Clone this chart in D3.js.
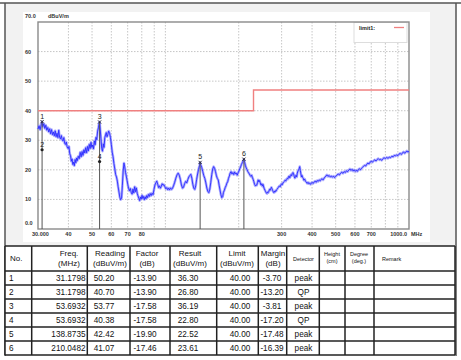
<!DOCTYPE html>
<html><head><meta charset="utf-8">
<script src="https://cdn.jsdelivr.net/npm/d3@7"></script>
<style>body{margin:0;background:#fff}svg{display:block}text{font-family:"Liberation Sans",Arial,sans-serif}</style>
</head><body>
<svg id="c" width="461" height="360"></svg>
<script>
// ---- data ----
const traceFreq = [30.0,30.3,30.6,30.9,31.18,31.4,31.7,32.0,32.3,32.6,32.9,33.2,33.5,33.8,34.1,34.4,34.7,35.0,35.3,35.6,35.9,36.2,36.5,36.8,37.1,37.4,37.7,38.0,38.3,38.6,38.9,39.2,39.5,39.9,40.2,40.5,40.8,41.1,41.4,41.7,42.0,42.3,42.6,42.9,43.2,43.5,43.9,44.3,44.7,45.1,45.5,45.9,46.3,46.7,47.1,47.5,47.9,48.3,48.7,49.1,49.5,49.9,50.3,50.7,51.1,51.5,51.9,52.3,52.7,53.1,53.4,53.69,54.0,54.4,54.8,55.2,55.6,56.0,56.4,56.8,57.2,57.6,58.0,58.5,59.0,59.5,60.0,60.5,61.0,61.5,62.0,62.5,63.0,63.5,64.0,64.5,65.0,65.5,66.1,66.6,67.1,67.6,68.1,68.6,69.1,69.6,70.1,70.6,71.2,71.8,72.4,73.0,73.6,74.2,74.8,75.4,76.0,76.6,77.2,77.8,78.4,79.0,79.6,80.2,80.8,81.4,82.0,82.6,83.2,83.8,84.5,85.2,85.9,86.6,87.4,88.2,89.0,89.8,90.6,91.4,92.2,93.0,93.8,94.6,95.4,96.2,97.0,97.8,98.6,99.5,100.4,101.3,102.2,103.1,104.0,105.0,106.0,107.0,108.0,109.2,110.4,111.6,112.8,114.0,115.2,116.4,117.6,118.8,120.0,121.2,122.4,123.6,124.8,126.0,127.2,128.4,129.6,130.8,132.0,133.2,134.4,135.6,136.8,138.0,138.87,139.8,141.0,142.4,143.8,145.2,146.6,148.0,149.4,150.8,152.2,153.6,155.0,156.4,157.8,159.2,160.6,162.0,163.4,164.8,166.2,167.6,169.0,170.4,171.8,173.2,174.6,176.0,177.4,178.8,180.2,181.6,183.0,184.4,186.0,187.6,189.2,190.8,192.4,194.0,195.6,197.2,198.8,200.4,202.0,203.6,205.2,206.8,208.4,210.05,211.6,213.2,214.8,216.4,218.0,219.6,221.2,222.8,224.4,226.0,227.6,229.2,230.8,232.4,234.0,235.6,237.2,238.8,240.4,242.0,243.6,245.2,246.8,248.4,250.0,251.6,253.2,254.8,256.4,258.0,259.6,261.2,262.8,264.4,266.0,267.6,269.2,270.8,272.4,274.0,275.6,277.2,278.8,280.4,282.0,283.6,285.2,286.8,288.4,290.0,292.0,294.0,296.0,298.0,300.0,302.0,304.0,306.0,308.0,310.0,312.0,314.0,316.0,318.0,320.0,322.0,324.0,326.0,328.0,330.0,332.0,334.0,336.0,338.0,340.0,342.0,344.0,346.0,348.0,350.0,352.0,354.0,356.0,358.0,360.0,362.0,364.0,366.0,368.0,370.0,373,376,379,382,385,388,391,394,397,400,404,408,412,416,420,424,428,432,436,440,444,448,452,456,460,465,470,475,480,485,490,495,500,506,512,518,524,530,536,542,548,554,560,566,572,578,584,590,596,602,608,614,620,626,632,638,644,650,657,664,671,678,685,692,700,708,716,724,732,740,748,756,764,772,780,790,800,810,820,830,840,850,860,870,880,890,900,910,920,930,940,950,960,970,980,990,1000];
const traceLevel = [33.8,34.9,33.6,35.2,36.3,34.6,35.6,34.0,35.1,33.4,34.3,32.8,33.9,32.2,33.6,31.9,32.8,31.5,33.2,31.2,32.4,30.9,33.4,31.0,30.5,31.6,30.2,29.8,30.9,29.0,28.6,29.4,27.8,27.2,27.9,25.4,24.8,22.9,23.7,21.8,22.6,21.4,23.5,22.4,24.0,23.1,24.6,23.8,25.9,24.4,26.2,24.9,26.8,25.7,27.5,25.8,27.9,26.4,28.6,27.2,29.3,27.6,28.4,27.1,29.8,28.5,31.0,30.2,33.1,34.2,35.6,36.2,33.8,30.5,27.2,26.3,28.8,27.6,30.9,31.8,32.6,31.2,31.9,33.1,32.4,31.0,28.6,26.0,24.4,22.1,20.3,18.4,17.6,16.2,14.2,12.5,10.8,9.9,10.5,14.8,19.6,22.3,21.0,19.2,17.9,16.5,15.0,13.8,12.9,13.7,12.4,11.8,13.5,12.2,14.3,12.6,13.9,12.1,11.2,10.4,9.6,10.8,10.1,11.4,10.3,11.0,9.9,10.9,10.2,11.3,10.6,11.7,11.0,12.0,11.3,12.1,11.6,13.4,14.9,15.6,16.2,15.1,14.0,14.6,13.8,14.4,15.3,14.8,15.0,14.3,13.6,14.0,13.3,13.8,13.2,13.9,13.4,13.8,14.6,15.8,17.2,18.3,18.9,18.2,16.8,14.9,13.8,14.2,15.4,16.1,15.6,16.7,17.6,18.1,18.5,17.2,15.1,13.8,13.4,14.6,16.8,18.6,20.1,21.4,22.5,21.6,20.8,19.4,18.0,17.1,15.6,13.8,12.7,12.3,13.5,15.8,18.4,20.3,21.1,20.5,19.4,18.0,17.1,16.6,14.8,13.2,11.6,10.6,10.9,12.4,13.1,14.0,14.6,15.5,16.0,17.1,17.9,18.9,19.4,18.6,19.1,18.4,19.3,18.6,18.9,18.2,19.0,19.6,20.4,21.0,21.8,22.4,23.0,23.6,22.5,21.4,20.6,20.1,19.4,19.0,18.6,18.1,17.8,18.2,17.4,16.8,16.0,15.1,14.6,14.9,14.8,15.7,16.6,15.9,16.4,15.6,14.9,15.3,14.5,15.1,14.2,13.6,13.1,12.6,12.2,12.0,12.5,12.3,12.8,13.4,13.1,13.7,14.1,13.6,13.0,12.6,12.3,12.8,12.5,13.0,12.9,13.4,13.6,14.0,14.2,14.6,14.3,14.9,15.3,15.0,15.6,15.9,16.1,16.5,16.2,16.8,17.1,16.9,17.6,17.9,17.3,18.1,18.4,18.0,18.8,19.1,18.6,17.8,17.2,17.9,18.2,17.6,18.9,19.6,19.9,20.4,21.1,19.8,18.6,17.6,18.1,17.4,17.2,16.5,16.9,16.1,15.9,15.4,15.8,15.3,15.6,15.1,15.4,15.8,15.4,15.9,16.2,15.8,16.4,16.1,16.6,16.3,16.8,17.0,16.6,17.2,17.5,17.9,18.3,17.8,18.1,17.6,17.9,17.5,17.9,17.4,17.8,18.2,18.6,18.3,18.9,19.2,18.8,19.4,19.1,19.7,19.4,19.9,20.3,19.8,20.2,19.6,20.0,19.5,19.9,19.5,20.1,20.4,20.0,20.5,20.8,21.2,21.5,21.3,21.9,22.3,22.0,22.6,22.9,22.6,23.1,23.4,23.0,23.5,23.8,23.4,23.6,23.2,23.7,24.1,23.8,24.2,23.9,24.3,24.1,24.6,24.4,24.9,24.7,25.1,24.8,25.3,25.6,25.2,25.7,26.1,25.6,26.0,26.4,26.0,26.3];
const limitFreq = [30, 230, 230, 1000];
const limitLevel = [40, 40, 47, 47];
const markerNo = [1,2,3,4,5,6];
const markerFreq = [31.1798,31.1798,53.6932,53.6932,138.8735,210.0482];
const markerReading = ["50.20","40.70","53.77","40.38","42.42","41.07"];
const markerFactor = ["-13.90","-13.90","-17.58","-17.58","-19.90","-17.46"];
const markerResult = [36.30,26.80,36.19,22.80,22.52,23.61];
const markerLimit = ["40.00","40.00","40.00","40.00","40.00","40.00"];
const markerMargin = ["-3.70","-13.20","-3.81","-17.20","-17.48","-16.39"];
const markerDetector = ["peak","QP","peak","QP","peak","peak"];
const xTickVals = [30,40,50,60,70,80,300,400,500,600,700,1000];
const xTickLabels = ["30.000","40","50","60","70","80","300","400","500","600","700","1000.0"];
const xGridVals = [40,50,60,70,80,90,100,200,300,400,500,600,700,800,900];
const yTickVals = [0,10,20,30,40,50,60,70];
const yTickLabels = ["0.0","10","20","30","40","50","60","70.0"];
const headers = [["No."],["Freq.","(MHz)"],["Reading","(dBuV/m)"],["Factor","(dB)"],["Result","(dBuV/m)"],["Limit","(dBuV/m)"],["Margin","(dB)"],["Detector"],["Height","(cm)"],["Degree","(deg.)"],["Remark"]];

// ---- drawing ----
const svg = d3.select("#c");
const x = d3.scaleLog().domain([30,1000]).range([38,409]);
const y = d3.scaleLinear().domain([0,70]).range([229,22]);

// frame + backgrounds
svg.append("rect").attr("x",5).attr("y",3).attr("width",451).attr("height",352).attr("fill","#f2f2f2").attr("stroke","none");
svg.append("rect").attr("x",23).attr("y",12).attr("width",407).attr("height",230).attr("fill","#fff");
svg.append("line").attr("x1",0).attr("x2",461).attr("y1",3).attr("y2",3).attr("stroke","#555").attr("stroke-width",1.5);
svg.append("line").attr("x1",5).attr("x2",5).attr("y1",3).attr("y2",356).attr("stroke","#555").attr("stroke-width",1.5);
svg.append("line").attr("x1",456).attr("x2",456).attr("y1",3).attr("y2",356).attr("stroke","#555").attr("stroke-width",1.5);

// grid
const g = svg.append("g");
g.selectAll(".gy").data(yTickVals.filter(v=>v>0&&v<70)).enter().append("line")
 .attr("x1",x(30)).attr("x2",x(1000)).attr("y1",d=>y(d)).attr("y2",d=>y(d))
 .attr("stroke","#b8b8b8").attr("stroke-width",0.8).attr("stroke-dasharray","1.5,1.5");
g.selectAll(".gx").data(xGridVals).enter().append("line")
 .attr("x1",d=>x(d)).attr("x2",d=>x(d)).attr("y1",y(70)).attr("y2",y(0))
 .attr("stroke","#b8b8b8").attr("stroke-width",0.8).attr("stroke-dasharray","1.5,1.5");

// legend box
svg.append("rect").attr("x",354).attr("y",22.5).attr("width",53).attr("height",20).attr("fill","#fff").attr("stroke","#ddd");
svg.append("text").attr("x",359).attr("y",29.5).attr("font-size",5.5).attr("font-weight","bold").attr("fill","#222").text("limit1:");
svg.append("line").attr("x1",394).attr("x2",404).attr("y1",27.5).attr("y2",27.5).attr("stroke","#f08080").attr("stroke-width",1.3);

// plot frame
svg.append("rect").attr("x",x(30)).attr("y",y(70)).attr("width",x(1000)-x(30)).attr("height",y(0)-y(70))
 .attr("fill","none").attr("stroke","#8a8a8a").attr("stroke-width",1.4);

// axis labels
svg.selectAll(".yl").data(yTickVals).enter().append("text")
 .attr("x",25).attr("y",(d)=>y(d)+2 - ((d===0||d===70)?6:0))
 .attr("font-size",5.5).attr("font-weight","bold").attr("fill","#333")
 .text((d,i)=>yTickLabels[i]);
svg.append("text").attr("x",48).attr("y",18).attr("font-size",5.5).attr("font-weight","bold").attr("fill","#333").text("dBuV/m");
svg.selectAll(".xl").data(xTickVals).enter().append("text")
 .attr("x",d=> d===30 ? x(d)-6 : (d===1000 ? x(d)-2 : x(d)))
 .attr("y",235.5)
 .attr("text-anchor",d=> d===30 ? "start" : (d===1000 ? "end":"middle"))
 .attr("font-size",5.5).attr("font-weight","bold").attr("fill","#333")
 .text((d,i)=>xTickLabels[i]);
svg.append("text").attr("x",411).attr("y",235.5).attr("font-size",5.5).attr("font-weight","bold").attr("fill","#333").text("MHz");

// limit line
const limitData = limitFreq.map((f,i)=>[f,limitLevel[i]]);
svg.append("path").datum(limitData)
 .attr("d",d3.line().x(d=>x(d[0])).y(d=>y(d[1])))
 .attr("fill","none").attr("stroke","#f08080").attr("stroke-width",1.4);

// trace
const traceData = traceFreq.map((f,i)=>[f,traceLevel[i]]);
const ln = d3.line().x(d=>x(d[0])).y(d=>y(d[1]));
svg.append("path").datum(traceData).attr("d",ln).attr("fill","none").attr("stroke","#8c8cff").attr("stroke-width",2.6).attr("stroke-opacity",0.7).attr("stroke-linejoin","round");
svg.append("path").datum(traceData).attr("d",ln).attr("fill","none").attr("stroke","#2a2aff").attr("stroke-width",0.9).attr("stroke-linejoin","round");

// markers
const mk = svg.append("g");
markerFreq.forEach((f,i)=>{
  if (i%2===1 && markerFreq[i]===markerFreq[i-1]) {} else {
    mk.append("line").attr("x1",x(f)).attr("x2",x(f)).attr("y1",y(0)).attr("y2",y(markerResult[i]))
      .attr("stroke","#555").attr("stroke-width",1);
  }
});
markerFreq.forEach((f,i)=>{
  const px = x(f), py = y(markerResult[i]);
  mk.append("text").attr("x",px).attr("y",py-3).attr("text-anchor","middle").attr("font-size",7).attr("fill","#222").text(markerNo[i]);
  if (markerDetector[i]==="QP") {
    mk.append("circle").attr("cx",px).attr("cy",py).attr("r",1.6).attr("fill","#222");
  } else {
    mk.append("path").attr("d",`M${px-1.6},${py-1.6}L${px+1.6},${py+1.6}M${px-1.6},${py+1.6}L${px+1.6},${py-1.6}`)
      .attr("stroke","#222").attr("stroke-width",0.9);
  }
});

// table
const colX = [5,31.7,87.3,130,170,216.7,258.3,286.7,319.3,345,374,455];
const tTop = 246, hBot = 271, rowH = 14;
const tBot = hBot + rowH*markerNo.length;
svg.append("rect").attr("x",5).attr("y",tTop).attr("width",450).attr("height",tBot-tTop).attr("fill","#fff");
const tb = svg.append("g").attr("stroke","#222").attr("stroke-width",1.5);
tb.append("line").attr("x1",5).attr("x2",455).attr("y1",tTop).attr("y2",tTop);
for (let i=0;i<=markerNo.length;i++) tb.append("line").attr("x1",5).attr("x2",455).attr("y1",hBot+i*rowH).attr("y2",hBot+i*rowH);
colX.forEach(cx=>tb.append("line").attr("x1",cx).attr("x2",cx).attr("y1",tTop).attr("y2",tBot));

const hdrX = [10,69,110,147,190,237,273,303.5,332,359,382];
headers.forEach((h,i)=>{
  const small = i>=7;
  const fs = small ? 5.5 : 8;
  const anchor = (i===0||i===10) ? "start" : "middle";
  if (h.length===1) {
    svg.append("text").attr("x",hdrX[i]).attr("y",261).attr("font-size",fs).attr("text-anchor",anchor).attr("fill","#111").text(h[0]);
  } else {
    svg.append("text").attr("x",hdrX[i]).attr("y",small?256:256).attr("font-size",fs).attr("text-anchor",anchor).attr("fill","#111").text(h[0]);
    svg.append("text").attr("x",hdrX[i]).attr("y",small?263:266).attr("font-size",fs).attr("text-anchor",anchor).attr("fill","#111").text(h[1]);
  }
});
const cellFs = 8.2;
markerNo.forEach((n,i)=>{
  const by = hBot + i*rowH + 10;
  const row = [
    [9,"start",String(n)],
    [85.5,"end",markerFreq[i].toFixed(4)],
    [104,"middle",markerReading[i]],
    [145,"middle",markerFactor[i]],
    [188,"middle",markerResult[i].toFixed(2)],
    [240,"middle",markerLimit[i]],
    [272,"middle",markerMargin[i]],
    [303.5,"middle",markerDetector[i]]
  ];
  row.forEach(c=>svg.append("text").attr("x",c[0]).attr("y",by).attr("text-anchor",c[1]).attr("font-size",cellFs).attr("fill","#111").text(c[2]));
});
</script>
</body></html>
